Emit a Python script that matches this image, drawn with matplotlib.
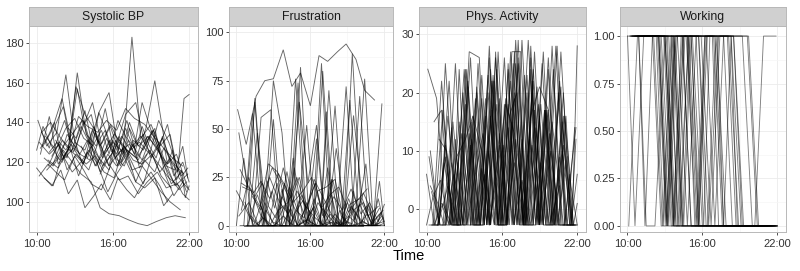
import numpy as np
import matplotlib
matplotlib.use('Agg')
import matplotlib.pyplot as plt

plt.rcParams['font.family'] = ['Liberation Sans', 'DejaVu Sans']

# facet titles
panels = ['Systolic BP', 'Frustration', 'Phys. Activity', 'Working']

# measurement times (decimal hours) for each subject
times = [
	[10.1, 10.8, 11.6, 12.3, 13.0, 13.8, 14.5, 15.2, 16.0, 16.7, 17.4, 18.2, 18.9, 19.7, 20.4, 21.2],
	[10.3, 11.0, 11.7, 12.5, 13.2, 13.9, 14.7, 15.4, 16.2, 16.9, 17.6, 18.4, 19.1, 19.9, 20.6, 21.4],
	[10.5, 11.2, 12.0, 12.7, 13.4, 14.2, 14.9, 15.6, 16.4, 17.1, 17.9, 18.6, 19.3, 20.1, 20.8, 21.6],
	[10.0, 10.6, 11.3, 12.0, 12.8, 13.5, 14.1, 14.8, 15.6, 16.3, 17.0, 17.8, 18.5, 19.3, 20.0, 20.7],
	[10.7, 11.4, 12.2, 12.9, 13.6, 14.4, 15.1, 15.8, 16.6, 17.3, 18.0, 18.8, 19.5, 20.3, 21.0, 21.9],
	[11.0, 11.6, 12.4, 13.1, 13.8, 14.6, 15.3, 16.0, 16.8, 17.5, 18.2, 19.0, 19.7, 20.5, 21.2, 22.0],
	[10.2, 10.9, 11.5, 12.2, 13.0, 13.7, 14.3, 15.1, 15.8, 16.5, 17.2, 18.0, 18.7, 19.5, 20.2, 21.0],
	[10.4, 11.1, 11.9, 12.6, 13.3, 14.0, 14.8, 15.5, 16.3, 17.0, 17.7, 18.5, 19.2, 20.0, 20.7, 21.5],
	[10.6, 11.3, 12.1, 12.8, 13.5, 14.3, 15.0, 15.7, 16.5, 17.2, 18.0, 18.7, 19.4, 20.2, 20.9, 21.7],
	[11.3, 12.0, 12.7, 13.5, 14.2, 14.9, 15.7, 16.4, 17.1, 17.9, 18.6, 19.3, 20.1, 20.8, 21.5, 22.0],
	[10.2, 11.0, 11.8, 12.4, 13.1, 13.9, 14.6, 15.3, 16.1, 16.8, 17.5, 18.3, 19.0, 19.8, 20.5, 21.3],
	[10.9, 11.5, 12.3, 13.0, 13.7, 14.5, 15.2, 15.9, 16.7, 17.4, 18.1, 18.9, 19.6, 20.4, 21.1, 21.8],
	[12.0, 12.6, 13.3, 14.0, 14.7, 15.5, 16.2, 16.9, 17.7, 18.4, 19.1, 19.9, 20.6, 21.1, 21.6, 22.0],
	[10.3, 10.9, 11.4, 12.0, 12.7, 13.4, 14.0, 14.6, 15.4, 16.1, 16.9, 17.6, 18.3, 19.1, 19.8, 20.6],
	[10.8, 11.5, 12.1, 12.9, 13.6, 14.2, 14.9, 15.7, 16.4, 17.0, 17.8, 18.5, 19.2, 20.0, 20.9, 21.9],
	[11.5, 12.2, 12.9, 13.7, 14.4, 15.0, 15.8, 16.5, 17.3, 18.0, 18.7, 19.5, 20.2, 20.9, 21.5, 21.9],
	[10.0, 10.5, 11.1, 11.8, 12.4, 13.1, 13.7, 14.4, 15.0, 15.7, 16.3, 17.0, 17.6, 18.3, 19.0, 19.7],
	[13.5, 14.0, 14.6, 15.1, 15.7, 16.2, 16.8, 17.3, 17.9, 18.4, 19.0, 19.5, 20.1, 20.6, 21.2, 21.8],
	[10.4, 11.0, 11.5, 12.1, 12.6, 13.2, 13.7, 14.3, 14.8, 15.4, 15.9, 16.5, 17.0, 17.6, 18.1, 18.7],
	[15.0, 15.5, 16.1, 16.6, 17.2, 17.7, 18.3, 18.8, 19.4, 19.9, 20.3, 20.7, 21.0, 21.4, 21.7, 22.0],
	[10.6, 11.2, 11.9, 12.5, 13.2, 13.8, 14.5, 15.1, 15.8, 16.4, 17.1, 17.7, 18.4, 19.0, 19.7, 20.3],
	[12.5, 13.1, 13.8, 14.4, 15.1, 15.7, 16.4, 17.0, 17.7, 18.3, 19.0, 19.6, 20.3, 20.9, 21.4, 21.9],
	[10.9, 11.7, 12.5, 13.3, 14.1, 14.9, 15.7, 16.5, 17.3, 18.1, 18.9, 19.7, 20.5, 21.0, 21.5, 22.0],
	[11.2, 11.8, 12.3, 12.9, 13.6, 14.3, 15.0, 15.6, 16.3, 17.0, 17.8, 18.5, 19.3, 20.0, 20.8, 21.6],
]

bp = [
	[141, 128, 135, 164, 130, 126, 138, 122, 131, 120, 127, 133, 125, 118, 112, 108],
	[124, 143, 119, 126, 165, 134, 128, 147, 122, 118, 131, 126, 136, 121, 109, 115],
	[128, 136, 152, 131, 124, 121, 145, 133, 118, 126, 122, 129, 137, 114, 103, 111],
	[117, 112, 108, 124, 115, 120, 126, 119, 105, 114, 121, 110, 107, 112, 98, 104],
	[133, 127, 141, 125, 137, 150, 129, 138, 123, 140, 128, 133, 126, 119, 124, 107],
	[125, 130, 122, 158, 144, 136, 124, 130, 125, 183, 132, 139, 128, 134, 112, 106],
	[113, 119, 115, 111, 123, 116, 109, 106, 118, 111, 113, 104, 110, 115, 107, 109],
	[135, 140, 132, 127, 143, 138, 135, 141, 136, 147, 142, 139, 133, 127, 122, 118],
	[122, 118, 126, 120, 114, 110, 97, 94, 93, 91, 89, 88, 90, 92, 93, 92],
	[119, 131, 125, 138, 129, 145, 155, 126, 141, 123, 137, 161, 129, 113, 120, 110],
	[130, 124, 129, 116, 124, 119, 123, 115, 112, 127, 116, 118, 112, 105, 100, 96],
	[118, 126, 137, 142, 132, 128, 118, 124, 133, 126, 130, 124, 141, 130, 117, 105],
	[120, 128, 113, 125, 118, 132, 122, 128, 117, 109, 124, 132, 120, 115, 152, 154],
	[127, 133, 140, 121, 129, 124, 131, 118, 126, 134, 128, 121, 119, 124, 113, 107],
	[116, 121, 128, 135, 141, 129, 122, 116, 131, 144, 150, 129, 136, 122, 108, 114],
	[131, 122, 127, 119, 136, 128, 139, 130, 125, 121, 133, 127, 118, 116, 128, 112],
	[126, 138, 129, 121, 134, 127, 141, 126, 119, 131, 124, 137, 128, 121, 133, 125],
	[128, 122, 135, 126, 118, 131, 124, 137, 129, 134, 122, 127, 118, 112, 106, 110],
	[135, 127, 139, 148, 131, 157, 139, 144, 130, 136, 125, 133, 121, 129, 117, 124],
	[114, 120, 126, 118, 131, 124, 138, 129, 122, 133, 119, 126, 111, 116, 102, 108],
	[112, 108, 116, 104, 111, 97, 103, 109, 101, 112, 106, 102, 110, 115, 108, 100],
	[137, 132, 146, 128, 136, 124, 141, 133, 127, 150, 136, 127, 139, 120, 113, 117],
	[121, 117, 127, 122, 116, 131, 118, 125, 129, 119, 126, 115, 122, 110, 104, 101],
	[123, 130, 126, 133, 119, 128, 115, 124, 118, 127, 110, 121, 115, 127, 119, 114],
]

frustration = [
	[60, 42, 67, 75, 76, 91, 72, 79, 62, 88, 85, 90, 94, 86, 70, 65],
	[0, 0, 48, 0, 0, 22, 0, 0, 0, 84, 0, 0, 5, 0, 0, 0],
	[20, 18, 5, 0, 8, 12, 25, 10, 4, 0, 2, 0, 10, 3, 0, 9],
	[0, 35, 0, 56, 60, 0, 0, 76, 0, 0, 80, 0, 0, 0, 67, 0],
	[12, 0, 15, 30, 22, 0, 13, 0, 18, 20, 24, 0, 8, 12, 0, 2],
	[0, 0, 0, 0, 5, 0, 0, 0, 0, 2, 0, 0, 0, 0, 0, 0],
	[48, 20, 64, 0, 75, 48, 0, 64, 22, 52, 0, 62, 0, 57, 14, 0],
	[22, 19, 10, 32, 28, 18, 8, 4, 24, 15, 6, 0, 11, 14, 5, 10],
	[0, 58, 0, 0, 0, 0, 74, 0, 45, 0, 0, 0, 89, 0, 0, 0],
	[15, 8, 25, 12, 6, 18, 9, 22, 4, 15, 8, 19, 6, 12, 2, 11],
	[5, 12, 0, 0, 0, 10, 0, 16, 0, 0, 70, 0, 0, 0, 0, 0],
	[0, 66, 0, 55, 0, 0, 82, 0, 0, 30, 0, 72, 0, 76, 0, 63],
	[10, 0, 22, 0, 30, 0, 9, 0, 24, 0, 14, 0, 6, 0, 23, 0],
	[29, 21, 17, 23, 14, 27, 20, 12, 18, 25, 9, 16, 20, 7, 13, 19],
	[0, 0, 0, 18, 0, 0, 0, 52, 0, 0, 0, 0, 65, 0, 0, 8],
	[0, 4, 0, 0, 9, 0, 3, 0, 0, 6, 0, 0, 2, 0, 0, 1],
	[18, 12, 4, 0, 8, 0, 15, 6, 0, 3, 10, 0, 6, 0, 2, 0],
	[0, 0, 35, 0, 12, 0, 0, 59, 0, 8, 0, 18, 0, 10, 0, 5],
	[8, 25, 15, 22, 10, 4, 19, 0, 7, 13, 2, 0, 9, 4, 0, 0],
	[0, 3, 0, 12, 6, 0, 2, 0, 9, 4, 0, 11, 3, 0, 7, 2],
	[0, 0, 0, 0, 0, 0, 0, 0, 0, 0, 0, 0, 0, 0, 0, 0],
	[23, 9, 30, 14, 25, 10, 22, 5, 16, 0, 12, 3, 17, 8, 0, 4],
	[0, 16, 0, 0, 28, 0, 10, 0, 0, 40, 0, 0, 32, 0, 14, 0],
	[5, 0, 12, 2, 0, 20, 7, 0, 14, 0, 24, 5, 0, 11, 0, 6],
]

# -2.7 is the "no activity" floor
activity = [
	[24, 19, -2.7, 25, -2.7, 14, -2.7, 22, -2.7, 27, -2.7, 12, -2.7, 26, -2.7, 9],
	[10, -2.7, 16, -2.7, 24, -2.7, 19, -2.7, 26, -2.7, 29, -2.7, 18, -2.7, 22, -2.7],
	[-2.7, 22, -2.7, -2.7, 27, 26, -2.7, 24, -2.7, 12, -2.7, 27, -2.7, -2.7, 15, -2.7],
	[6, -2.7, 1, -2.7, 13, -2.7, 25, -2.7, 18, -2.7, 8, -2.7, 24, -2.7, 28, -2.7],
	[-2.7, 8, -2.7, 20, -2.7, 23, -2.7, 13, -2.7, 29, -2.7, 21, -2.7, 28, -2.7, 14],
	[12, 10, -2.7, 18, -2.7, -2.7, 22, -2.7, 27, 27, -2.7, 16, -2.7, 20, -2.7, -2.7],
	[-2.7, -2.7, 9, -2.7, 24, -2.7, -2.7, 16, -2.7, 24, -2.7, 20, -2.7, 17, -2.7, -2.7],
	[3, -2.7, -2.7, 15, -2.7, 21, -2.7, 26, -2.7, 19, -2.7, -2.7, 25, -2.7, 27, -2.7],
	[-2.7, 17, -2.7, -2.7, 11, -2.7, 28, -2.7, 14, -2.7, 23, -2.7, 17, -2.7, 11, -2.7],
	[-2.7, 14, -2.7, 26, -2.7, 10, -2.7, -2.7, 29, -2.7, 17, -2.7, 24, -2.7, -2.7, 6],
	[9, -2.7, 22, -2.7, -2.7, 19, -2.7, 23, -2.7, 15, -2.7, 26, -2.7, 13, -2.7, -2.7],
	[-2.7, 25, -2.7, 13, -2.7, -2.7, 17, -2.7, 22, -2.7, -2.7, 18, -2.7, 28, -2.7, -2.7],
	[-2.7, -2.7, 21, -2.7, 16, -2.7, -2.7, 25, -2.7, 20, -2.7, 10, -2.7, 16, -2.7, 28],
	[4, 1, -2.7, 8, -2.7, 13, -2.7, 6, -2.7, 11, -2.7, 5, -2.7, 8, -2.7, 4],
	[-2.7, -2.7, 15, -2.7, 12, -2.7, 20, -2.7, -2.7, 27, -2.7, 22, -2.7, 15, -2.7, -2.7],
	[-2.7, 6, -2.7, -2.7, 19, -2.7, 11, -2.7, 25, -2.7, 14, -2.7, -2.7, 20, -2.7, 12],
	[-2.7, 2, 5, -2.7, 9, 12, 16, 10, -2.7, 7, 18, 13, -2.7, 16, 21, 17],
	[-2.7, 20, -2.7, 24, -2.7, 18, -2.7, 26, -2.7, 22, -2.7, 17, -2.7, 9, -2.7, 14],
	[-2.7, -2.7, 11, -2.7, 24, -2.7, 16, 6, -2.7, 22, -2.7, 25, -2.7, 12, -2.7, -2.7],
	[-2.7, 27, -2.7, 16, 20, -2.7, 24, -2.7, 17, -2.7, 13, 21, -2.7, 6, -2.7, 1],
	[15, 17, -2.7, 8, -2.7, 5, 13, -2.7, 19, -2.7, 25, -2.7, 11, -2.7, 24, -2.7],
	[-2.7, 24, -2.7, 7, -2.7, 27, -2.7, 20, -2.7, 28, -2.7, 17, -2.7, 16, -2.7, -2.7],
	[-2.7, 4, -2.7, 22, -2.7, 23, -2.7, 18, -2.7, 29, -2.7, 17, -2.7, 16, 4, -2.7],
	[1, -2.7, 12, -2.7, 15, -2.7, 26, -2.7, 19, -2.7, 23, -2.7, 27, -2.7, 10, -2.7],
]

working = [
	[0, 1, 1, 1, 1, 0, 1, 1, 0, 0, 0, 0, 0, 0, 0, 0],
	[1, 1, 1, 1, 0, 1, 1, 1, 1, 1, 0, 0, 0, 0, 0, 0],
	[1, 1, 1, 0, 0, 0, 0, 0, 0, 0, 0, 0, 0, 0, 0, 0],
	[1, 0, 1, 1, 1, 1, 1, 1, 0, 1, 1, 1, 1, 0, 0, 0],
	[1, 1, 1, 1, 0, 1, 0, 0, 0, 0, 0, 0, 0, 0, 0, 0],
	[1, 1, 1, 1, 1, 1, 1, 1, 1, 1, 1, 1, 1, 0, 0, 0],
	[1, 1, 0, 0, 1, 0, 0, 0, 0, 0, 0, 0, 0, 0, 0, 0],
	[1, 1, 1, 1, 1, 1, 0, 1, 1, 0, 1, 1, 0, 0, 0, 0],
	[1, 1, 1, 0, 1, 1, 1, 1, 1, 1, 1, 0, 0, 0, 0, 0],
	[1, 1, 1, 0, 0, 1, 0, 0, 1, 0, 0, 0, 0, 0, 0, 0],
	[1, 1, 1, 1, 1, 0, 0, 0, 0, 0, 0, 0, 0, 0, 0, 0],
	[1, 1, 1, 1, 0, 1, 1, 1, 0, 1, 1, 1, 1, 0, 0, 0],
	[1, 1, 0, 1, 1, 0, 1, 1, 1, 0, 0, 0, 0, 0, 0, 0],
	[1, 1, 0, 1, 1, 1, 1, 1, 1, 1, 1, 1, 1, 0, 0, 0],
	[1, 1, 1, 1, 1, 1, 1, 1, 1, 1, 1, 1, 1, 0, 0, 0],
	[1, 1, 1, 1, 0, 0, 0, 0, 0, 0, 0, 0, 0, 1, 1, 1],
	[1, 1, 1, 1, 1, 0, 1, 0, 1, 1, 0, 0, 0, 0, 0, 0],
	[1, 0, 1, 1, 0, 1, 1, 0, 0, 0, 0, 0, 0, 0, 0, 0],
	[1, 1, 1, 1, 1, 1, 0, 1, 1, 0, 0, 0, 0, 0, 0, 0],
	[1, 1, 0, 1, 1, 0, 1, 0, 0, 0, 0, 0, 0, 0, 0, 0],
	[1, 1, 1, 1, 0, 1, 0, 1, 0, 0, 0, 0, 0, 0, 0, 0],
	[1, 0, 1, 1, 0, 0, 1, 1, 0, 0, 0, 0, 0, 0, 0, 0],
	[1, 1, 1, 1, 0, 1, 1, 0, 1, 1, 0, 0, 0, 0, 0, 0],
	[1, 1, 1, 0, 1, 0, 0, 0, 0, 0, 0, 0, 0, 0, 0, 0],
]

series = [bp, frustration, activity, working]

# y axis per facet (free scales)
y_ticks = [
	[100, 120, 140, 160, 180],
	[0, 25, 50, 75, 100],
	[0, 10, 20, 30],
	[0, 0.25, 0.5, 0.75, 1.0],
]
y_labels = [
	['100', '120', '140', '160', '180'],
	['0', '25', '50', '75', '100'],
	['0', '10', '20', '30'],
	['0.00', '0.25', '0.50', '0.75', '1.00'],
]
y_limits = [(84.8, 188.5), (-3.3, 103.3), (-3.9, 31.4), (-0.032, 1.053)]

x_ticks = [10, 16, 22]
x_labels = ['10:00', '16:00', '22:00']

W, H = 800, 271
# panel left/right edges in pixels
panel_x = [(29, 198), (229, 393), (419, 586), (620, 786)]
top, bottom, strip_top = 26, 232, 7

fig = plt.figure(figsize=(8, 2.71), dpi=100)

for i, name in enumerate(panels):
	x0, x1 = panel_x[i]
	ax = fig.add_axes([x0 / W, 1 - bottom / H, (x1 - x0) / W, (bottom - top) / H])

	alpha = 0.5 if i == 3 else 0.6
	for t, v in zip(times, series[i]):
		ax.plot(t, v, color='black', lw=0.65, alpha=alpha, solid_joinstyle='miter')

	ax.set_xlim(9.4, 22.7)
	ax.set_ylim(*y_limits[i])
	ax.set_xticks(x_ticks)
	ax.set_xticklabels(x_labels)
	ax.set_xticks([13, 19], minor=True)
	ax.set_yticks(y_ticks[i])
	ax.set_yticklabels(y_labels[i])
	yt = y_ticks[i]
	ax.set_yticks([(a + b) / 2 for a, b in zip(yt[:-1], yt[1:])], minor=True)

	ax.grid(True, which='major', color='#ebebeb', lw=0.6)
	ax.grid(True, which='minor', color='#f6f6f6', lw=0.5)
	ax.set_axisbelow(True)
	for s in ax.spines.values():
		s.set_color('#b8b8b8')
		s.set_linewidth(0.7)
	ax.tick_params(which='major', length=2.3, width=0.6, color='#333333',
		labelsize=8, labelcolor='#333333', pad=1.5)
	ax.tick_params(axis='x', pad=2.5)
	ax.tick_params(which='minor', length=0)

	# facet strip on top of the panel
	sax = fig.add_axes([x0 / W, 1 - top / H, (x1 - x0) / W, (top - strip_top) / H])
	sax.set_facecolor('#d0d0d0')
	sax.set_xticks([])
	sax.set_yticks([])
	for s in sax.spines.values():
		s.set_color('#b8b8b8')
		s.set_linewidth(0.7)
	sax.text(0.5, 0.47, name, ha='center', va='center', fontsize=8.8,
		color='#1a1a1a', transform=sax.transAxes)

fig.text(409 / W, 1 - 256 / H, 'Time', ha='center', va='center', fontsize=10.5)

fig.savefig('out.png', dpi=100)
